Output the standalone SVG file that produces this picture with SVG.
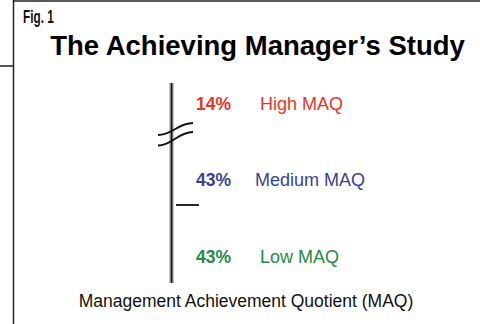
<svg xmlns="http://www.w3.org/2000/svg" width="480" height="324" viewBox="0 0 480 324">
  <style>
    .frame { stroke: #222; stroke-width: 1.5; fill: none; }
    .pct { font-family: "Liberation Sans", Arial, sans-serif; font-weight: bold; font-size: 17.5px; }
    .lbl { font-family: "Liberation Sans", Arial, sans-serif; font-size: 18px; }
    .red { fill: #e8352b; }
    .blue { fill: #3a3f96; }
    .green { fill: #1e8a45; }
  </style>
  <rect width="480" height="324" fill="#fff"/>
  <!-- page frame -->
  <g id="frame">
    <path class="frame" d="M13.5 0 V324 M13.5 1 H480 M0 66 H13.5"/>
  </g>
  <text x="23" y="23" font-family="Liberation Sans, Arial, sans-serif" font-weight="bold" font-size="19" fill="#111" transform="translate(23 0) scale(0.62 1) translate(-23 0)">Fig. 1</text>
  <text x="257.5" y="55" text-anchor="middle" font-family="Liberation Sans, Arial, sans-serif" font-weight="bold" font-size="27.5" fill="#000">The Achieving Manager’s Study</text>
  <!-- scale axis -->
  <g id="axis">
    <rect x="169.5" y="83" width="4" height="200" fill="#888"/>
    <rect x="171" y="83" width="1.2" height="200" fill="#111"/>
    <path d="M158 135 C172 135 178 123 193 123 M158 145.5 C172 145.5 178 132 193 132" fill="none" stroke="#111" stroke-width="1.8"/>
    <line x1="176" y1="205" x2="199" y2="205" stroke="#111" stroke-width="1.8"/>
  </g>
  <g id="high">
    <text class="pct red" x="196" y="110">14%</text>
    <text class="lbl red" x="260" y="110">High MAQ</text>
  </g>
  <g id="medium">
    <text class="pct blue" x="196" y="186">43%</text>
    <text class="lbl blue" x="255" y="186">Medium MAQ</text>
  </g>
  <g id="low">
    <text class="pct green" x="196" y="263">43%</text>
    <text class="lbl green" x="260" y="263">Low MAQ</text>
  </g>
  <text x="246" y="307" text-anchor="middle" font-family="Liberation Sans, Arial, sans-serif" font-size="17.5" fill="#111">Management Achievement Quotient (MAQ)</text>
</svg>
